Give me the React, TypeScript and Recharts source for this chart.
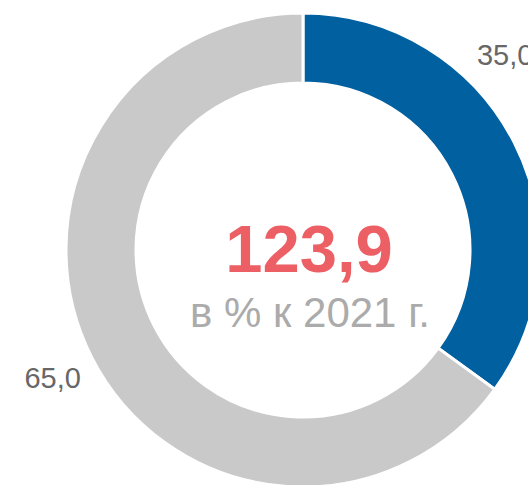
import { Label, Pie, PieChart, Cell } from 'recharts';

const categories = ['Доля A', 'Доля B'];
const shares = [35.0, 65.0];
const sliceColors = ['#0060A0', '#C9C9C9'];
const centerValue = '123,9';
const centerCaption = 'в % к 2021 г.';

const data = categories.map((name, i) => ({ name, value: shares[i] }));

const fmt = (v: number) => v.toFixed(1).replace('.', ',');

const RAD = Math.PI / 180;
const CX = 303;
const CY = 250;

const renderLabel = (props: any) => {
    const { cx, cy, midAngle, index, value } = props;
    // the first label sits a little higher along the ring, as in the original
    const angle = index === 0 ? midAngle + 17 : midAngle;
    const r = 281;
    const x = cx + r * Math.cos(angle * RAD);
    const y = cy - r * Math.sin(angle * RAD);
    return (
        <text x={x} y={y} textAnchor="middle" dominantBaseline="central" fill="#676767" fontSize={29} fontFamily="Liberation Sans, Arial, sans-serif">
            {fmt(value)}
        </text>
    );
};

const CenterText = () => (
    <g fontFamily="Liberation Sans, Arial, sans-serif">
        <text x={CX + 6} y={CY + 22} textAnchor="middle" fill="#EC5F64" fontSize={67} fontWeight="bold">
            {centerValue}
        </text>
        <text x={CX + 7} y={CY + 77} textAnchor="middle" fill="#ABABAB" fontSize={42}>
            {centerCaption}
        </text>
    </g>
);

export default function App() {
    return (
        <div style={{ position: 'fixed', left: 0, top: 0, width: 528, height: 485, background: '#fff' }}>
            <PieChart width={528} height={485} margin={{ top: 0, right: 0, bottom: 0, left: 0 }}>
                <Pie
                    data={data}
                    dataKey="value"
                    cx={CX}
                    cy={CY}
                    innerRadius={167}
                    outerRadius={237}
                    startAngle={90}
                    endAngle={-270}
                    stroke="#ffffff"
                    strokeWidth={3}
                    label={renderLabel}
                    labelLine={false}
                    isAnimationActive={false}
                >
                    {data.map((d, i) => (
                        <Cell key={d.name} fill={sliceColors[i]} />
                    ))}
                    <Label position="center" content={CenterText} />
                </Pie>
            </PieChart>
        </div>
    );
}
